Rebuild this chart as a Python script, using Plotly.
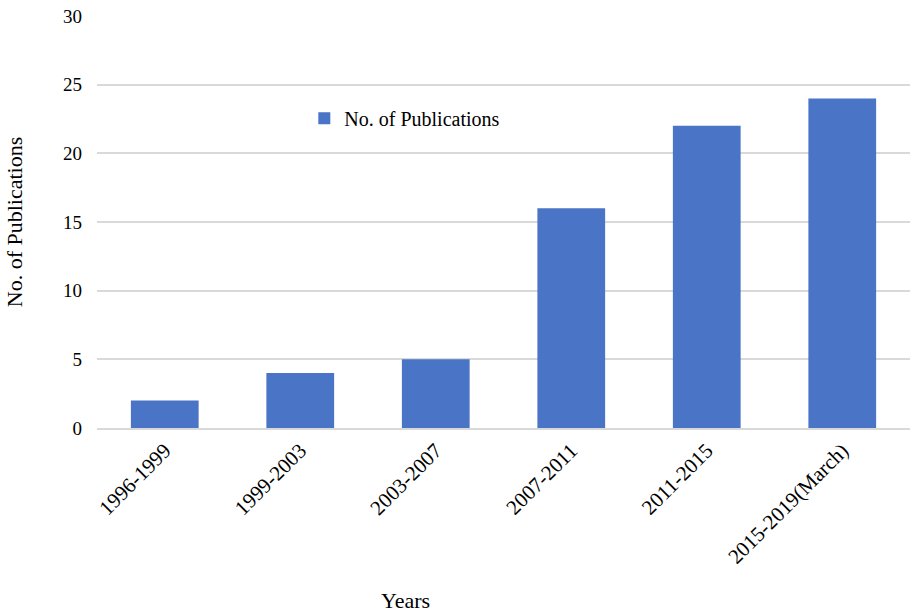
import plotly.graph_objects as go

# Publication counts per period
periods = ["1996-1999", "1999-2003", "2003-2007", "2007-2011", "2011-2015", "2015-2019(March)"]
publications = [2, 4, 5, 16, 22, 24]

serif = "Liberation Serif, Times New Roman, serif"

fig = go.Figure()
fig.add_trace(go.Bar(
    x=periods,
    y=publications,
    name="No. of Publications",
    marker=dict(color="#4A74C6", line=dict(width=0)),
    width=0.5,
    showlegend=True,
))

fig.update_layout(
    width=910,
    height=612,
    margin=dict(l=97, r=0, t=16, b=184),
    paper_bgcolor="white",
    plot_bgcolor="white",
    font=dict(family=serif, size=19, color="#000000"),
    showlegend=True,
    legend=dict(
        x=0.255, y=0.752, xanchor="left", yanchor="middle",
        bgcolor="rgba(0,0,0,0)", font=dict(size=20, family=serif),
        itemwidth=30,
    ),
    xaxis=dict(
        tickangle=-45,
        tickfont=dict(size=21, family=serif),
        showgrid=False,
        showline=True, linecolor="#D9D9D9", linewidth=2,
        ticks="",
    ),
    yaxis=dict(
        range=[0, 30],
        dtick=5,
        showgrid=True, gridcolor="#D9D9D9", gridwidth=1.5,
        zeroline=False,
        showline=False,
        ticks="",
        ticklabelstandoff=14,
        tickfont=dict(size=19, family=serif),
        title=dict(text="No. of Publications", font=dict(size=22, family=serif), standoff=34),
    ),
    annotations=[dict(
        text="Years", xref="paper", yref="paper",
        x=(405 - 97) / 813, y=-(600 - 428) / 412,
        xanchor="center", yanchor="middle", showarrow=False,
        font=dict(size=22, family=serif),
    )],
)

fig.write_html("out.html")
